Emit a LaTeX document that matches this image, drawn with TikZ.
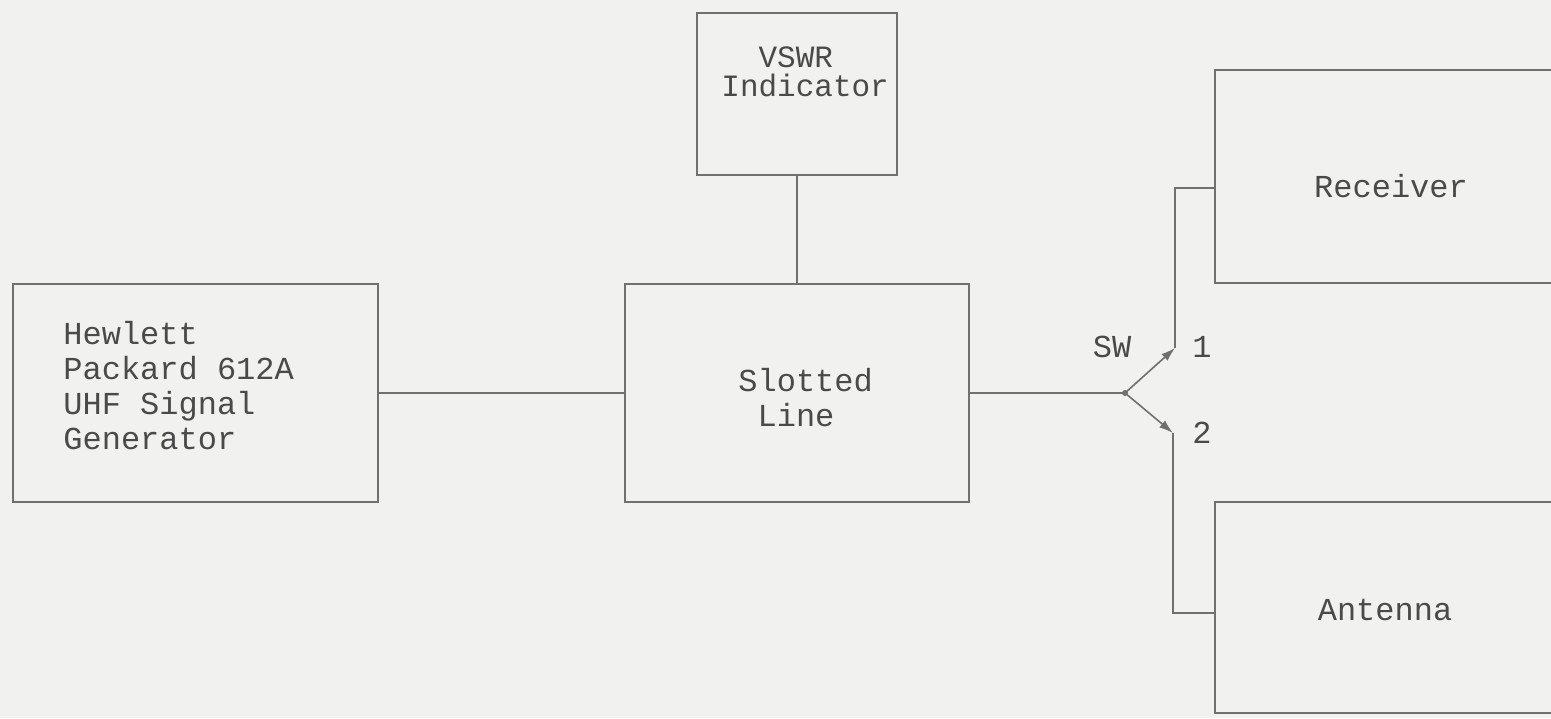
\documentclass[tikz,border=0pt]{standalone}
\usepackage{fontspec}
\setmonofont{Liberation Mono}
\usetikzlibrary{arrows.meta}
\definecolor{paper}{HTML}{F1F1EF}
\definecolor{ink}{HTML}{4A4A4A}
\definecolor{wire}{HTML}{707070}
\begin{document}
\begin{tikzpicture}[x=0.5pt,y=-0.5pt,
  blockbox/.style={draw=wire, line width=0.8pt, inner sep=0pt},
  txt/.style={text=ink, font=\ttfamily\fontsize{16}{17.5}\selectfont, inner sep=0pt, align=left},
  tighttxt/.style={text=ink, font=\ttfamily\fontsize{15.5}{14.5}\selectfont, inner sep=0pt, align=left},
  conn/.style={draw=wire, line width=0.8pt},
  swarm/.style={draw=wire, line width=0.8pt, -{Latex[length=7pt,width=4.5pt]}}
]
\useasboundingbox (0,0) rectangle (1551,718);
\fill[paper] (0,0) rectangle (1551,718);
\clip (0,0) rectangle (1551,718);

% boxes
\node[blockbox, minimum width=182.5pt, minimum height=109pt] (hp) at (195.5,393) {};
\node[blockbox, minimum width=172pt, minimum height=109pt] (slot) at (797,393) {};
\node[blockbox, minimum width=100pt, minimum height=81pt] (vswr) at (797,94) {};
\node[blockbox, minimum width=176pt, minimum height=106.5pt] (recv) at (1391,176.5) {};
\node[blockbox, minimum width=170pt, minimum height=105.5pt] (ant) at (1385,607.5) {};

% texts
\node[txt, anchor=north west] (hptext) at (63,321) {Hewlett\\Packard 612A\\UHF Signal\\Generator};
\node[txt, anchor=north west] (slottext) at (738,368) {Slotted\\\hphantom{I}Line};
\node[tighttxt, anchor=north west] (vswrtext) at (721,46) {\hphantom{II}VSWR\\Indicator};
\node[txt, anchor=center] (recvtext) at (1391,186) {Receiver};
\node[txt, anchor=center] (anttext) at (1385,610) {Antenna};

% switch
\coordinate (pivot) at (1125,393);
\coordinate (c1) at (1175,348);
\coordinate (c2) at (1173,433);
\coordinate (rwire) at (1175,188);
\coordinate (awire) at (1173,613);
\node[txt, anchor=center] (swlabel) at (1112,347) {SW};
\node[txt, anchor=center] (one) at (1202,347) {1};
\node[txt, anchor=center] (two) at (1202,433) {2};

% connectors
\draw[conn] (hp.east) -- (slot.west);
\draw[conn] (vswr.south) -- (slot.north);
\draw[conn] (slot.east) -- (pivot);
\draw[swarm] (pivot) -- (c1);
\draw[swarm] (pivot) -- (c2);
\draw[conn] (c1) -- (rwire) -- (rwire -| recv.west);
\draw[conn] (c2) -- (awire) -- (awire -| ant.west);
\fill[wire] (pivot) circle (1.5pt);
\end{tikzpicture}
\end{document}
